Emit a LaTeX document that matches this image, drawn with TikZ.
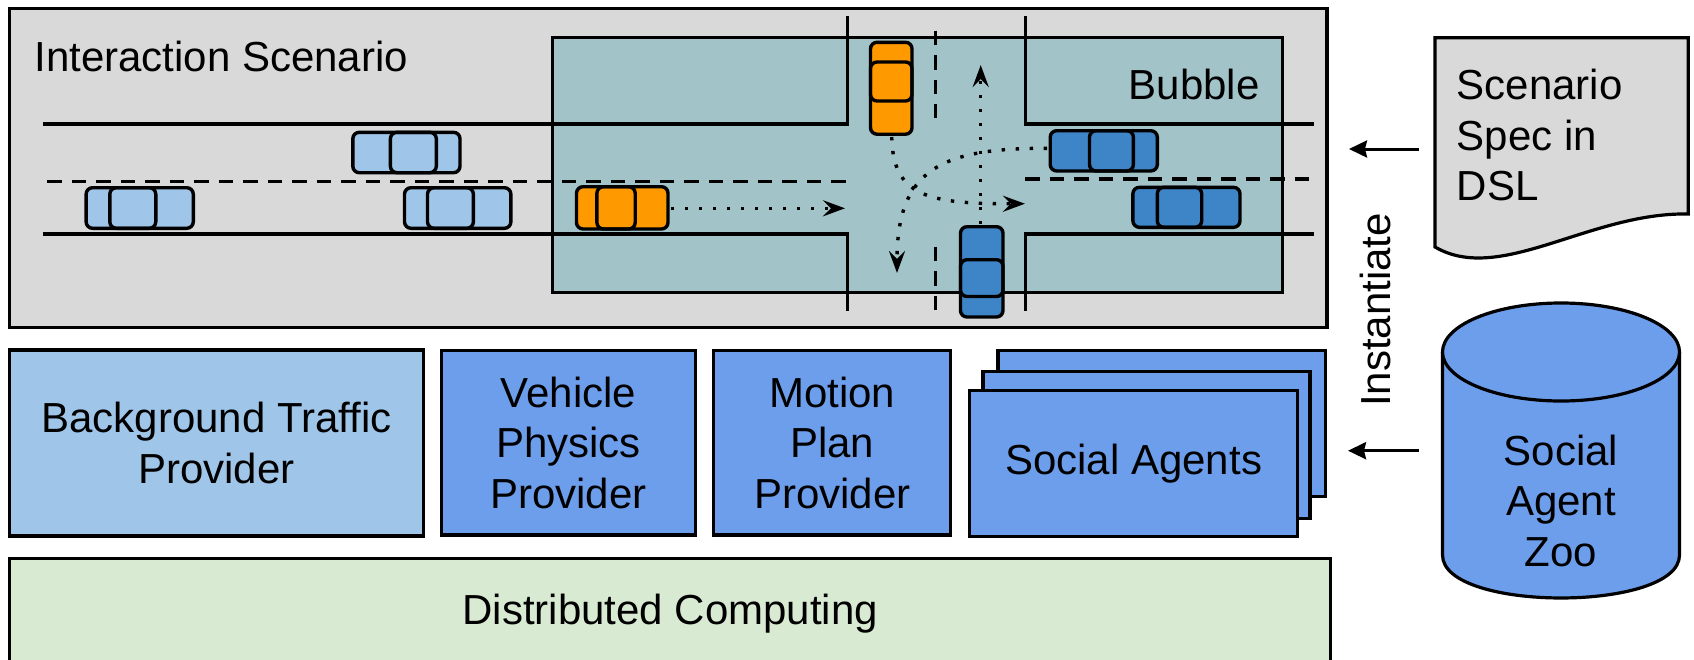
\documentclass[tikz,border=0pt]{standalone}
\usepackage{fontspec}
\setmainfont{Liberation Sans}
\usetikzlibrary{arrows.meta}

\definecolor{scengray}{HTML}{D9D9D9}
\definecolor{bubblecol}{HTML}{A2C4C9}
\definecolor{lightblue}{HTML}{9FC5E8}
\definecolor{midblue}{HTML}{6D9EEB}
\definecolor{carorange}{HTML}{FF9900}
\definecolor{carblue}{HTML}{3D85C6}
\definecolor{compgreen}{HTML}{D9EAD3}

% horizontal car: fill, x1, y1, x2, y2, cabin x1, cabin x2
\newcommand{\drawhcar}[7]{%
  \filldraw[carbody, fill=#1] (#2,#3) rectangle (#4,#5);
  \draw[carbody] (#6,#3) rectangle (#7,#5);}
% vertical car: fill, x1, y1, x2, y2, cabin y1, cabin y2
\newcommand{\drawvcar}[7]{%
  \filldraw[carbody, fill=#1] (#2,#3) rectangle (#4,#5);
  \draw[carbody] (#2,#6) rectangle (#4,#7);}

\begin{document}
\begin{tikzpicture}[x=1pt, y=-1pt,
  every node/.style={font=\fontsize{42}{50.5}\selectfont, inner sep=0pt, outer sep=0pt},
  panel/.style={draw=black, line width=3.2pt, rectangle},
  road/.style={line width=3.3pt},
  lane/.style={line width=3.3pt, dash pattern=on 14.5pt off 10pt},
  track/.style={line width=3.4pt, dash pattern=on 3.4pt off 10.6pt,
                -{Stealth[length=22pt, width=16pt, inset=8pt]}},
  feed/.style={line width=3pt, -{Stealth[length=18pt, width=17pt, inset=2pt]}},
  carbody/.style={draw=black, line width=3.4pt, rounded corners=6.5pt},
]
\useasboundingbox (0,0) rectangle (1694,659);
\clip (0,0) rectangle (1694,659);
\fill[white] (0,0) rectangle (1694,659);

% ---------- interaction scenario ----------
\node[panel, fill=scengray, minimum width=1317.4pt, minimum height=319.4pt] (scen) at (668.3,168) {};
\node[panel, fill=bubblecol, minimum width=729.8pt, minimum height=255.5pt] (bubble) at (917.4,165) {};
\node[anchor=base west] (scentitle) at (34.4,71) {Interaction Scenario};
\node[anchor=base east] (bubbletitle) at (1259.4,99.3) {Bubble};

% road edges
\draw[road] (42.9,124) -- (847.3,124) -- (847.3,16);
\draw[road] (42.9,234) -- (847.3,234) -- (847.3,310.7);
\draw[road] (1314,124) -- (1025.7,124) -- (1025.7,16);
\draw[road] (1314,234) -- (1025.7,234) -- (1025.7,310.7);
% lane markings
\draw[lane] (47.3,181.7) -- (847,181.7);
\draw[lane] (1025,179) -- (1314,179);
\draw[lane] (935.3,30.7) -- (935.3,118);
\draw[lane] (935.3,246.7) -- (935.3,310.7);

% background traffic
\drawhcar{lightblue}{352.8}{132.3}{460}{172.7}{390.4}{436.3}
\drawhcar{lightblue}{86.1}{187.7}{193.3}{228.3}{109.8}{155.8}
\drawhcar{lightblue}{404.5}{187.7}{510.9}{228.3}{427.5}{473.4}
% ego vehicles
\drawhcar{carorange}{576.5}{186.7}{668}{229}{596.9}{635.2}
\drawvcar{carorange}{870.5}{42.3}{912}{134.2}{62}{101}
% social agents in the bubble
\drawhcar{carblue}{1050.2}{130.7}{1157.3}{171}{1089.5}{1133.4}
\drawhcar{carblue}{1132.9}{187.3}{1240}{227.3}{1157.3}{1201.7}
\drawvcar{carblue}{960.5}{226.7}{1003}{317}{259.7}{296.5}

% planned trajectories
\coordinate (egoL) at (671,208.3);
\coordinate (egoLend) at (845,208.3);
\coordinate (egoT) at (891.7,137);
\coordinate (egoTend) at (1025,203.7);
\coordinate (agR) at (1047,148.3);
\coordinate (agRend) at (897,273);
\coordinate (agB) at (980.7,224);
\coordinate (agBend) at (980.7,65);
\draw[track] (egoL) -- (egoLend);
\draw[track] (agB) -- (agBend);
\draw[track] (egoT) .. controls (893,195) and (925,204) .. (egoTend);
\draw[track] (agR) .. controls (940,148) and (897,170) .. (agRend);

% ---------- providers ----------
\node[panel, fill=lightblue, minimum width=413.5pt, minimum height=186pt, align=center] (btp) at (216.5,443) {Background Traffic\\Provider};
\node[panel, fill=midblue, minimum width=253.7pt, minimum height=184.3pt, align=center] (vpp) at (568.5,442.9) {Vehicle\\Physics\\Provider};
\node[panel, fill=midblue, minimum width=236.8pt, minimum height=184.3pt, align=center] (mpp) at (832.2,442.9) {Motion\\Plan\\Provider};
\node[panel, fill=midblue, minimum width=327.2pt, minimum height=146pt] (saback) at (1161.6,423.7) {};
\node[panel, fill=midblue, minimum width=327pt, minimum height=147pt] (samid) at (1146.5,444.8) {};
\node[panel, fill=midblue, minimum width=328.3pt, minimum height=146pt] (safront) at (1133.65,463.7) {Social Agents};

% ---------- distributed computing ----------
\node[panel, fill=compgreen, minimum width=1320.7pt, minimum height=111pt] (dc) at (670.15,614) {Distributed Computing};

% ---------- scenario spec document ----------
\filldraw[panel, fill=scengray] (1435,37.7) -- (1688.3,37.7) -- (1688.3,214)
  .. controls (1590,212) and (1500,285) .. (1435,247) -- cycle;
\node[anchor=north west, align=left] (spec) at (1456.7,69.4) {Scenario\\Spec in\\DSL};

% ---------- social agent zoo ----------
\fill[midblue] (1442.5,352) -- (1442.5,555) .. controls (1442.5,612.3) and (1679.5,612.3) .. (1679.5,555) -- (1679.5,352) -- cycle;
\draw[line width=3.2pt] (1442.5,352) -- (1442.5,555) .. controls (1442.5,612.3) and (1679.5,612.3) .. (1679.5,555) -- (1679.5,352);
\filldraw[panel, fill=midblue] (1561,352) ellipse [x radius=118.5, y radius=49];
\node[align=center] (zoo) at (1561,500.5) {Social\\Agent\\Zoo};

% ---------- instantiation ----------
\node[rotate=90, anchor=base] (inst) at (1390,310) {Instantiate};
\coordinate (specout) at (1419,149);
\coordinate (scenin) at (1349,149);
\coordinate (zooout) at (1419,450.7);
\coordinate (agentsin) at (1348,450.7);
\draw[feed] (specout) -- (scenin);
\draw[feed] (zooout) -- (agentsin);
\end{tikzpicture}
\end{document}
